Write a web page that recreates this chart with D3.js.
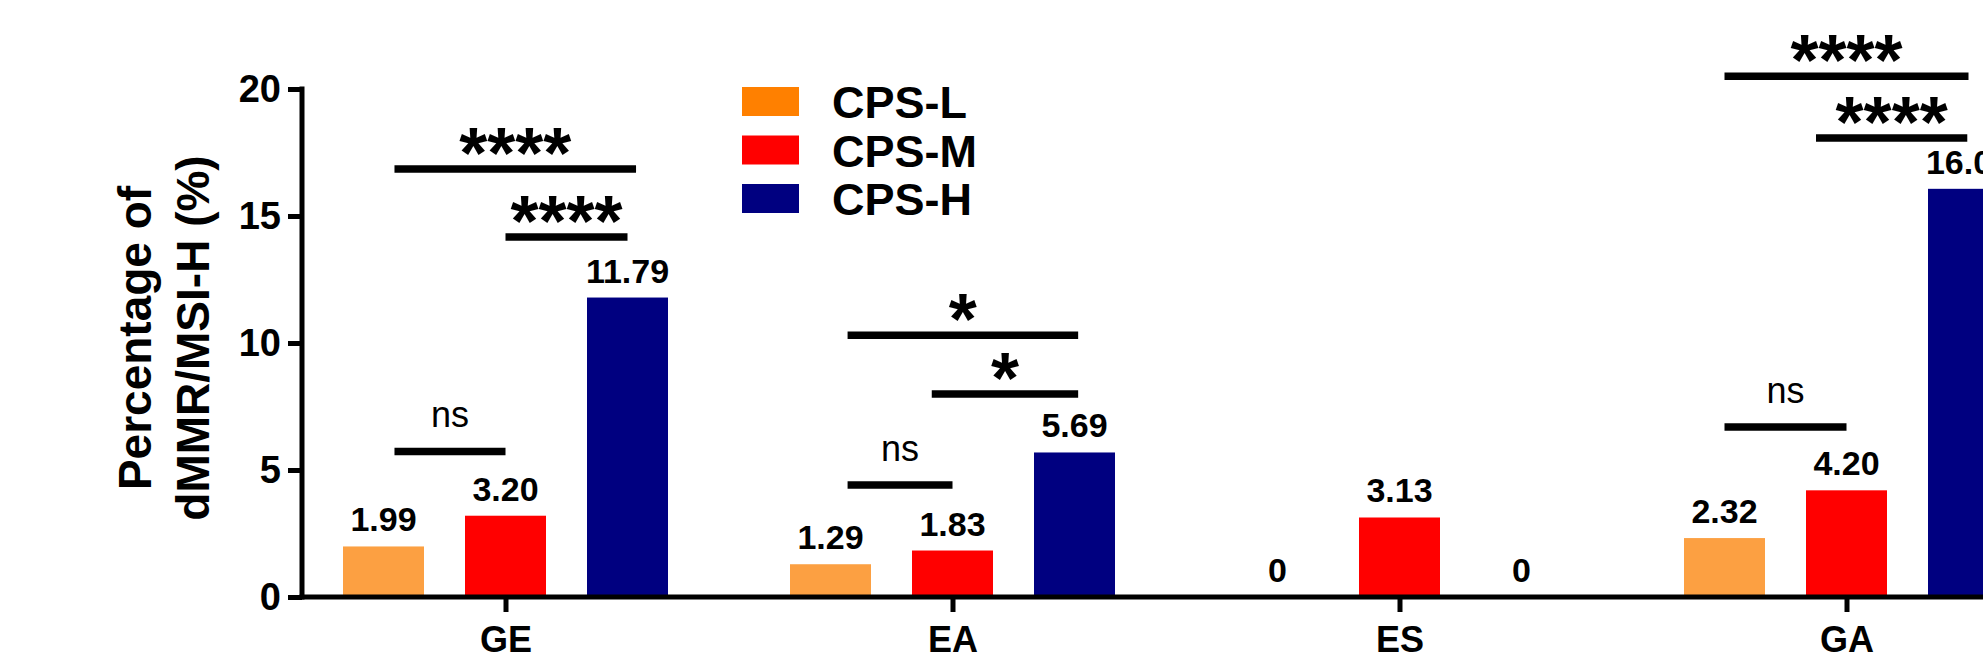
<!DOCTYPE html>
<html>
<head>
<meta charset="utf-8">
<script src="https://cdn.jsdelivr.net/npm/d3@7"></script>
<style>
  html, body { margin: 0; padding: 0; background: #fff; overflow: hidden; }
  svg { display: block; font-family: "Liberation Sans", Arial, Helvetica, sans-serif; }
</style>
</head>
<body>
<svg id="chart" width="1983" height="670"></svg>
<script>
// ---------- data ----------
const categories = ["GE", "EA", "ES", "GA"];
const seriesNames = ["CPS-L", "CPS-M", "CPS-H"];
const cpsL = [1.99, 1.29, 0, 2.32];
const cpsM = [3.20, 1.83, 3.13, 4.20];
const cpsH = [11.79, 5.69, 0, 16.07];
const yTicks = [0, 5, 10, 15, 20];

// significance brackets (category, from/to series position, height in %, label)
const bracketCategory = ["GE", "GE", "GE", "EA", "EA", "EA", "GA", "GA", "GA"];
const bracketFrom     = [0.09, 0.09, 1.0, 0.14, 0.14, 0.83, 0.0, 0.0, 0.75];
const bracketTo       = [1.0, 2.07, 2.0, 1.0, 2.03, 2.03, 1.0, 2.0, 1.99];
const bracketY        = [5.73, 16.85, 14.17, 4.41, 10.31, 7.99, 6.69, 20.5, 18.07];
const bracketLabel    = ["ns", "****", "****", "ns", "*", "*", "ns", "****", "****"];

// ---------- styles ----------
const barColors = ["#FCA042", "#FF0000", "#000080"];
const legendColors = ["#FF8000", "#FF0000", "#000080"];

const svg = d3.select("#chart");

// ---------- scales ----------
const x = d3.scalePoint().domain(categories).range([505.5, 1846.5]);
const xInner = d3.scaleLinear().domain([0, 2]).range([-122, 122]);
const y = d3.scaleLinear().domain([0, 20]).range([597, 89]);
const barW = 81;

const seriesValues = [cpsL, cpsM, cpsH];
const bars = [];
categories.forEach((c, i) => {
  seriesValues.forEach((vals, s) => bars.push({ c, s, v: vals[i] }));
});

// ---------- bars ----------
svg.append("g").selectAll("rect").data(bars).join("rect")
  .attr("x", d => x(d.c) + xInner(d.s) - barW / 2)
  .attr("y", d => y(d.v))
  .attr("width", barW)
  .attr("height", d => y(0) - y(d.v))
  .attr("fill", d => barColors[d.s]);

// value labels
svg.append("g").selectAll("text").data(bars).join("text")
  .attr("x", d => x(d.c) + xInner(d.s))
  .attr("y", d => y(d.v) - 15)
  .attr("text-anchor", "middle")
  .attr("font-size", 34)
  .attr("font-weight", "bold")
  .attr("fill", "#000")
  .text(d => d.v === 0 ? "0" : d.v.toFixed(2));

// ---------- axes ----------
const yAxis = d3.axisLeft(y).tickValues(yTicks).tickSize(14).tickSizeOuter(0).tickPadding(7).tickFormat(d3.format("d"));
const gy = svg.append("g").attr("transform", "translate(302,0)").call(yAxis);
gy.select(".domain").attr("stroke", "#000").attr("stroke-width", 5)
  .attr("d", `M0,${y(20) - 2.5}V${y(0) + 2.5}`);
gy.selectAll(".tick line").attr("stroke", "#000").attr("stroke-width", 5).attr("x2", -14).attr("x1", 0);
gy.selectAll(".tick text").attr("font-size", 38).attr("font-weight", "bold").attr("fill", "#000")
  .attr("font-family", "Liberation Sans, Arial, sans-serif");

const xAxis = d3.axisBottom(x).tickSize(15).tickSizeOuter(0).tickPadding(14);
const gx = svg.append("g").attr("transform", `translate(0,${y(0)})`).call(xAxis);
gx.select(".domain").attr("stroke", "#000").attr("stroke-width", 5).attr("d", "M299.5,0H2000");
gx.selectAll(".tick line").attr("stroke", "#000").attr("stroke-width", 5);
gx.selectAll(".tick text").attr("font-size", 36).attr("font-weight", "bold").attr("fill", "#000")
  .attr("font-family", "Liberation Sans, Arial, sans-serif");

// ---------- significance brackets ----------
const br = bracketLabel.map((l, i) => ({
  c: bracketCategory[i], f: bracketFrom[i], t: bracketTo[i], v: bracketY[i], l
}));
const gb = svg.append("g");
gb.selectAll("line").data(br).join("line")
  .attr("x1", d => x(d.c) + xInner(d.f))
  .attr("x2", d => x(d.c) + xInner(d.t))
  .attr("y1", d => y(d.v))
  .attr("y2", d => y(d.v))
  .attr("stroke", "#000")
  .attr("stroke-width", 7.5);
gb.selectAll("text").data(br).join("text")
  .attr("x", d => x(d.c) + (xInner(d.f) + xInner(d.t)) / 2)
  .attr("y", d => d.l === "ns" ? y(d.v) - 24 : y(d.v) + 9)
  .attr("text-anchor", "middle")
  .attr("font-size", d => d.l === "ns" ? 36 : 72)
  .attr("font-weight", d => d.l === "ns" ? "normal" : "bold")
  .attr("fill", "#000")
  .text(d => d.l);

// ---------- y label ----------
const yLabelLines = ["Percentage of", "dMMR/MSI-H (%)"];
svg.append("g").selectAll("text").data(yLabelLines).join("text")
  .attr("transform", (d, i) => `translate(${151 + i * 58},338) rotate(-90)`)
  .attr("text-anchor", "middle")
  .attr("font-size", 46)
  .attr("font-weight", "bold")
  .attr("fill", "#000")
  .text(d => d);

// ---------- legend ----------
const lg = svg.append("g").attr("transform", "translate(742,87)");
const li = lg.selectAll("g").data(seriesNames).join("g")
  .attr("transform", (d, i) => `translate(0,${i * 48.5})`);
li.append("rect").attr("width", 57).attr("height", 29).attr("fill", (d, i) => legendColors[i]);
li.append("text").attr("x", 90).attr("y", 31).attr("font-size", 45).attr("font-weight", "bold")
  .attr("fill", "#000").text(d => d);
</script>
</body>
</html>
